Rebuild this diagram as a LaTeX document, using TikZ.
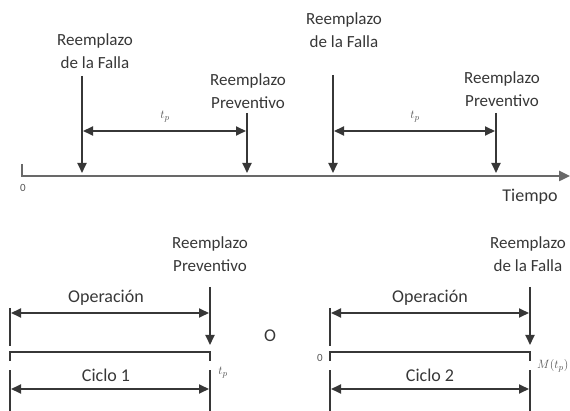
\documentclass[tikz,border=0pt]{standalone}
\usepackage{fontspec}
\setmainfont{Carlito}
\usepackage{xcolor}
\definecolor{tlgray}{RGB}{55,55,55}
\definecolor{axgray}{RGB}{105,105,105}
\usepackage{tikz}
\usetikzlibrary{arrows.meta}
\tikzset{
  rep label/.style={align=center, font=\fontsize{17}{23}\selectfont, text=tlgray, inner sep=0pt},
  span label/.style={font=\fontsize{18}{20}\selectfont, text=tlgray, inner sep=0pt},
  math label/.style={font=\fontsize{13}{15}\selectfont, text=tlgray!85, inner sep=0pt},
  rep drop/.style={-{Triangle[length=10pt,width=9pt]}, line width=1.8pt, draw=tlgray},
  span arrow/.style={{Triangle[length=10pt,width=9pt]}-{Triangle[length=10pt,width=9pt]}, line width=1.8pt, draw=tlgray, shorten >=1pt, shorten <=1pt},
  axis line/.style={line width=2.4pt, draw=axgray},
  rail/.style={line width=1.9pt, draw=tlgray},
}

\begin{document}
\begin{tikzpicture}[x=1pt, y=-1pt]
  \useasboundingbox (0,0) rectangle (570,411);
  \coordinate (o) at (22,176); \coordinate (ot) at (22,164); \coordinate (te) at (570,176);
  \draw[axis line, -{Triangle[length=11pt,width=10pt]}] (ot) -- (o) -- (te);
  \node[math label, font=\fontsize{11}{13}\selectfont] (zero) at (23,188) {0};
  \node[span label] (tiempo) at (530,197) {Tiempo};
  \node[rep label] (la) at (95,51) {Reemplazo\\de la Falla};
  \node[rep label] (lb) at (248,91) {Reemplazo\\Preventivo};
  \node[rep label] (lc) at (344,30) {Reemplazo\\de la Falla};
  \node[rep label] (ld) at (502,89) {Reemplazo\\Preventivo};
  \coordinate (fa) at (82,76); \coordinate (pb) at (247,113); \coordinate (fc) at (333,75); \coordinate (pd) at (496,113);
  \draw[rep drop, shorten >=3pt] (fa) -- (fa |- o); \draw[rep drop, shorten >=3pt] (pb) -- (pb |- o); \draw[rep drop, shorten >=3pt] (fc) -- (fc |- o); \draw[rep drop, shorten >=3pt] (pd) -- (pd |- o);
  \coordinate (r1) at (0,131);
  \draw[span arrow] (fa |- r1) -- (pb |- r1); \draw[span arrow] (fc |- r1) -- (pd |- r1);
  \node[math label] (tp1) at (165,117) {$t_p$};
  \node[math label] (tp2) at (415,117) {$t_p$};
  % ciclo 1
  \node[rep label] (lp) at (210,254) {Reemplazo\\Preventivo};
  \coordinate (c1a) at (10,352); \coordinate (c1b) at (210,352); \coordinate (p1) at (210,287);
  \draw[rail] ([yshift=-9pt]c1a) -- (c1a) -- (c1b) -- ([yshift=-9pt]c1b);
  \draw[rail] ([yshift=44pt]c1a) -- ([yshift=6pt]c1a); \draw[rail] ([yshift=-18pt]c1a) -- ([yshift=-60pt]c1a); \draw[rail] ([yshift=-18pt]c1b) -- ([yshift=-60pt]c1b);
  \draw[rep drop] (p1) -- ([yshift=7pt]c1b);
  \draw[span arrow] ([yshift=39pt]c1a) -- ([yshift=39pt]c1b); \draw[span arrow] ([yshift=-37pt]c1a) -- ([yshift=-37pt]c1b);
  \node[span label] (op1) at (106,298) {Operación};
  \node[span label] (cy1) at (106,375) {Ciclo 1};
  \node[math label] (tp3) at (223,373) {$t_p$};
  \node[span label] (or) at (270,336) {O};
  % ciclo 2
  \node[rep label] (lf) at (528,254) {Reemplazo\\de la Falla};
  \coordinate (c2a) at (330,352); \coordinate (c2b) at (530,352); \coordinate (p2) at (530,287);
  \draw[rail] ([yshift=-9pt]c2a) -- (c2a) -- (c2b) -- ([yshift=-9pt]c2b);
  \draw[rail] ([yshift=44pt]c2a) -- ([yshift=6pt]c2a); \draw[rail] ([yshift=-18pt]c2a) -- ([yshift=-60pt]c2a); \draw[rail] ([yshift=-18pt]c2b) -- ([yshift=-60pt]c2b);
  \draw[rep drop] (p2) -- ([yshift=7pt]c2b);
  \draw[span arrow] ([yshift=39pt]c2a) -- ([yshift=39pt]c2b); \draw[span arrow] ([yshift=-37pt]c2a) -- ([yshift=-37pt]c2b);
  \node[span label] (op2) at (430,298) {Operación};
  \node[span label] (cy2) at (430,375) {Ciclo 2};
  \node[math label, font=\fontsize{11}{13}\selectfont] (zero2) at (320,358) {0};
  \node[math label, anchor=west] (mt) at (537,366) {$M(t_p)$};
\end{tikzpicture}
\end{document}
